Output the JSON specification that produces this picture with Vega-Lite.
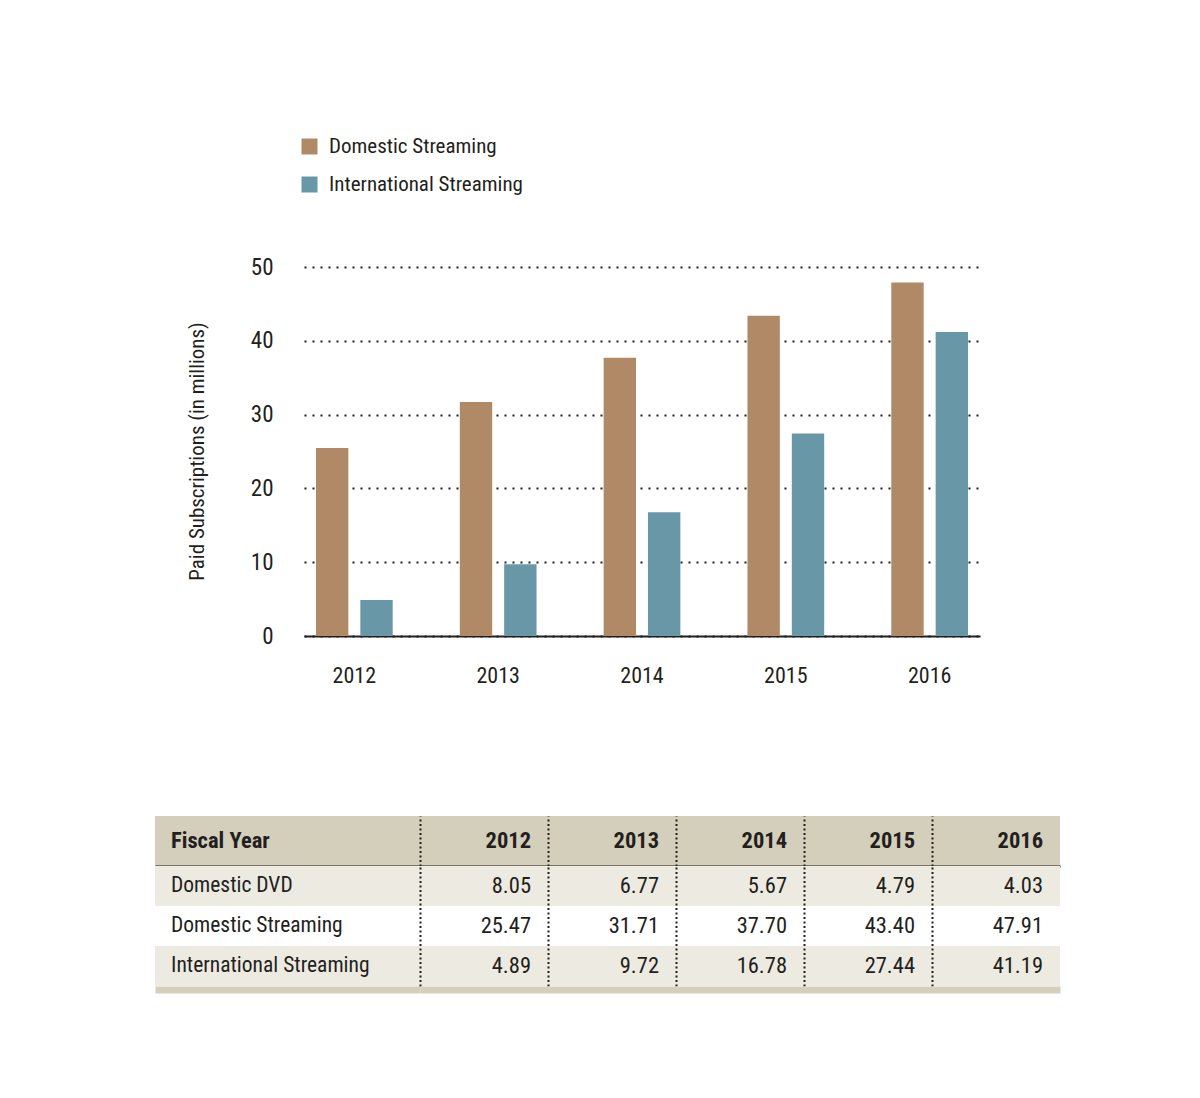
{
  "$schema": "https://vega.github.io/schema/vega-lite/v6.json",
  "background": "white",
  "padding": {"left": 155, "top": 136, "right": 5, "bottom": 5},
  "config": {
    "font": "Liberation Sans Narrow, Roboto Condensed, Open Sans Condensed, DejaVu Sans Condensed, sans-serif",
    "view": {"stroke": null},
    "axis": {"labelColor": "#231F20", "titleColor": "#231F20", "labelFont": "Liberation Sans Narrow, Roboto Condensed, Open Sans Condensed, DejaVu Sans Condensed, sans-serif", "titleFont": "Liberation Sans Narrow, Roboto Condensed, Open Sans Condensed, DejaVu Sans Condensed, sans-serif"},
    "legend": {"labelFont": "Liberation Sans Narrow, Roboto Condensed, Open Sans Condensed, DejaVu Sans Condensed, sans-serif"},
    "text": {"font": "Liberation Sans Narrow, Roboto Condensed, Open Sans Condensed, DejaVu Sans Condensed, sans-serif", "color": "#231F20"}
  },
  "datasets": {
    "subs": [
      {"year": "2012", "series": "Domestic DVD", "value": 8.05},
      {"year": "2012", "series": "Domestic Streaming", "value": 25.47},
      {"year": "2012", "series": "International Streaming", "value": 4.89},
      {"year": "2013", "series": "Domestic DVD", "value": 6.77},
      {"year": "2013", "series": "Domestic Streaming", "value": 31.71},
      {"year": "2013", "series": "International Streaming", "value": 9.72},
      {"year": "2014", "series": "Domestic DVD", "value": 5.67},
      {"year": "2014", "series": "Domestic Streaming", "value": 37.70},
      {"year": "2014", "series": "International Streaming", "value": 16.78},
      {"year": "2015", "series": "Domestic DVD", "value": 4.79},
      {"year": "2015", "series": "Domestic Streaming", "value": 43.40},
      {"year": "2015", "series": "International Streaming", "value": 27.44},
      {"year": "2016", "series": "Domestic DVD", "value": 4.03},
      {"year": "2016", "series": "Domestic Streaming", "value": 47.91},
      {"year": "2016", "series": "International Streaming", "value": 41.19}
    ]
  },
  "columns": 1,
  "spacing": 130,
  "concat": [
    {
      "spacing": 9,
      "hconcat": [
        {
          "width": 86,
          "height": 369,
          "data": {"values": [{"t": "Paid Subscriptions (in millions)"}]},
          "mark": {"type": "text", "angle": 270, "align": "center", "baseline": "middle", "fontSize": 21},
          "encoding": {"text": {"field": "t"}}
        },
        {
          "width": 676,
          "height": 369,
          "data": {"name": "subs"},
          "transform": [{"filter": "datum.series !== 'Domestic DVD'"}],
          "mark": {"type": "bar"},
          "encoding": {
            "x": {
              "field": "year", "type": "ordinal",
              "scale": {"type": "band", "paddingInner": 0.3, "paddingOuter": 0},
              "axis": {"title": null, "labelAngle": 0, "labelFontSize": 22, "labelPadding": 29, "ticks": false, "domain": true, "domainColor": "#231F20", "domainWidth": 2, "grid": false}
            },
            "xOffset": {
              "field": "series", "type": "nominal",
              "scale": {"domain": ["Domestic Streaming", "International Streaming"], "paddingInner": 0.27, "paddingOuter": 0.27}
            },
            "y": {
              "field": "value", "type": "quantitative",
              "scale": {"domain": [0, 50], "nice": false},
              "axis": {
                "values": [0, 10, 20, 30, 40, 50],
                "title": null,
                "labelFontSize": 23, "labelPadding": 31, "ticks": false, "domain": false,
                "grid": true, "gridColor": "#231F20", "gridDash": [2, 6], "gridWidth": 2
              }
            },
            "color": {
              "field": "series", "type": "nominal",
              "scale": {"domain": ["Domestic Streaming", "International Streaming"], "range": ["#B08A66", "#6897A7"]},
              "legend": {"orient": "none", "legendX": 144, "legendY": -131, "title": null, "symbolType": "square", "symbolSize": 256, "symbolStrokeWidth": 0, "labelFontSize": 21, "labelOffset": 9, "labelLimit": 400, "rowPadding": 16, "labelColor": "#231F20"}
            }
          }
        }
      ]
    },
    {
      "vconcat": [
        {
          "spacing": 0,
          "hconcat": [
            {
              "width": 265,
              "height": 50,
              "view": {"fill": "#D3CFBB", "stroke": null},
              "data": {"values": [{"head": "Fiscal Year"}]},
              "mark": {"type": "text", "align": "left", "baseline": "middle", "fontSize": 22.5, "fontWeight": "bold", "dx": 16},
              "encoding": {
                "text": {"field": "head"},
                "x": {"field": "head", "type": "nominal", "bandPosition": 0, "scale": {"type": "band", "paddingInner": 0, "paddingOuter": 0},
                  "axis": {"title": null, "labels": false, "ticks": false, "domainColor": "#231F20", "domainWidth": 2, "grid": false, "zindex": 1}}
              }
            },
            {
              "width": 640,
              "height": 50,
              "view": {"fill": "#D3CFBB", "stroke": null},
              "data": {"name": "subs"},
              "transform": [{"filter": "datum.series === 'Domestic DVD'"}],
              "mark": {"type": "text", "align": "right", "baseline": "middle", "fontSize": 22.5, "fontWeight": "bold", "dx": -17},
              "encoding": {
                "text": {"field": "year"},
                "x": {"field": "year", "type": "ordinal", "bandPosition": 1, "scale": {"type": "band", "paddingInner": 0, "paddingOuter": 0},
                  "axis": {"title": null, "labels": false, "ticks": false, "domainColor": "#231F20", "domainWidth": 2, "grid": true, "gridColor": "#231F20", "gridDash": [2, 2.5], "gridWidth": 2, "bandPosition": 0, "zindex": 1}}
              }
            }
          ]
        },
        {
          "spacing": 0,
          "hconcat": [
            {
              "width": 265,
              "height": 120,
              "data": {"name": "subs"},
              "transform": [{"filter": "datum.year === '2012'"}],
              "encoding": {
                "y": {"field": "series", "type": "nominal", "sort": ["Domestic DVD", "Domestic Streaming", "International Streaming"], "scale": {"type": "band", "paddingInner": 0, "paddingOuter": 0}, "axis": null},
                "x": {"datum": "label", "type": "nominal", "scale": {"type": "band", "paddingInner": 0, "paddingOuter": 0},
                  "axis": {"title": null, "labels": false, "ticks": false, "domainColor": "#D3CFBB", "domainWidth": 7, "offset": 3.5, "grid": false, "zindex": 1}}
              },
              "layer": [
                {
                  "mark": {"type": "rect"},
                  "encoding": {"fill": {"condition": {"test": "datum.series === 'Domestic Streaming'", "value": "#FFFFFF"}, "value": "#EDEBE1"}}
                },
                {
                  "mark": {"type": "text", "align": "left", "baseline": "middle", "fontSize": 21.5, "dx": 16},
                  "encoding": {
                    "text": {"field": "series"},
                    "x": {"datum": "label", "type": "nominal", "bandPosition": 0}
                  }
                }
              ]
            },
            {
              "width": 640,
              "height": 120,
              "data": {"name": "subs"},
              "encoding": {
                "y": {"field": "series", "type": "nominal", "sort": ["Domestic DVD", "Domestic Streaming", "International Streaming"], "scale": {"type": "band", "paddingInner": 0, "paddingOuter": 0}, "axis": null},
                "x": {"field": "year", "type": "ordinal", "scale": {"type": "band", "paddingInner": 0, "paddingOuter": 0},
                  "axis": {"title": null, "labels": false, "ticks": false, "domainColor": "#D3CFBB", "domainWidth": 7, "offset": 3.5, "grid": true, "gridColor": "#231F20", "gridDash": [2, 2.5], "gridWidth": 2, "bandPosition": 0, "zindex": 1}}
              },
              "layer": [
                {
                  "mark": {"type": "rect"},
                  "encoding": {"fill": {"condition": {"test": "datum.series === 'Domestic Streaming'", "value": "#FFFFFF"}, "value": "#EDEBE1"}}
                },
                {
                  "mark": {"type": "text", "align": "right", "baseline": "middle", "fontSize": 22.5, "dx": -17},
                  "encoding": {
                    "text": {"field": "value", "type": "quantitative", "format": ".2f"},
                    "x": {"field": "year", "type": "ordinal", "bandPosition": 1}
                  }
                }
              ]
            }
          ]
        }
      ],
      "spacing": 0
    }
  ]
}
